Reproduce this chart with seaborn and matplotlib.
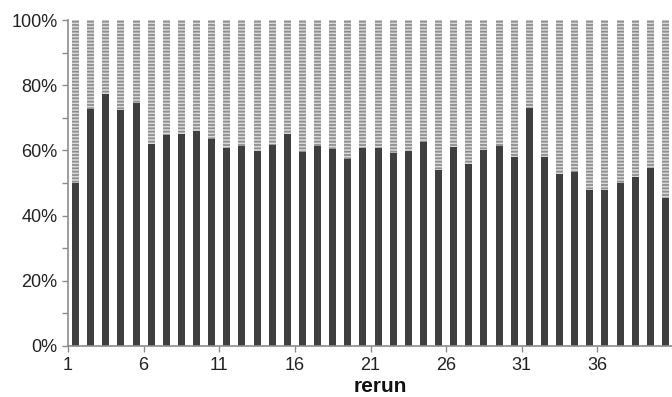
import numpy as np
import pandas as pd
import matplotlib
matplotlib.use("Agg")
import matplotlib.pyplot as plt
import seaborn as sns

# share of the dark part for each rerun (%)
runs = list(range(1, 41))
dark_pct = [50.1, 72.6, 77.2, 72.4, 74.6, 62.0, 64.6, 65.0, 66.0, 63.4,
            60.7, 61.4, 59.8, 61.7, 65.0, 59.4, 61.3, 60.3, 57.5, 60.6,
            60.8, 59.3, 59.8, 62.5, 54.1, 61.0, 55.9, 60.0, 61.3, 58.1,
            72.9, 57.9, 52.8, 53.3, 48.0, 48.0, 50.0, 51.7, 54.5, 45.3]
total_pct = [100] * len(runs)
x_tick_labels = ["1", "6", "11", "16", "21", "26", "31", "36"]
y_ticks = [0, 20, 40, 60, 80, 100]

df = pd.DataFrame({"rerun": runs, "dark": dark_pct, "total": total_pct})

sns.set_style("white")
plt.rcParams["font.family"] = ["Liberation Sans", "DejaVu Sans"]
plt.rcParams["hatch.linewidth"] = 1.3

fig = plt.figure(figsize=(6.72, 3.97), dpi=100)
ax = fig.add_axes([0.1012, 0.1285, 0.9003, 0.8211])

# light hatched part (full bar), then dark part on top
sns.barplot(data=df, x="rerun", y="total", color="#d9d9d9",
            width=0.46, saturation=1, ax=ax)
for p in ax.patches:
    p.set_hatch("-----")
    p.set_edgecolor("#8f8f8f")
    p.set_linewidth(0)

n_light = len(ax.patches)
sns.barplot(data=df, x="rerun", y="dark", color="#3f3f3f",
            width=0.46, saturation=1, ax=ax)
for p in ax.patches[n_light:]:
    p.set_linewidth(0)

ax.set_xlim(-0.5, len(runs) - 0.5)
ax.set_ylim(0, 100)

ax.set_xticks([i - 0.5 for i in range(0, 40, 5)])
ax.set_xticklabels(x_tick_labels)
ax.set_yticks(y_ticks)
ax.set_yticklabels([f"{v}%" for v in y_ticks])
ax.set_yticks([10, 30, 50, 70, 90], minor=True)

ax.tick_params(axis="both", which="both", direction="out", length=4,
               width=1, color="#8c8c8c", labelsize=13, labelcolor="#222222",
               bottom=True, left=True)
ax.tick_params(axis="x", pad=4)

for side in ["top", "right"]:
    ax.spines[side].set_visible(False)
for side in ["left", "bottom"]:
    ax.spines[side].set_color("#8c8c8c")
    ax.spines[side].set_linewidth(1.2)

ax.set_ylabel("")
ax.set_xlabel("rerun", fontsize=15, fontweight="bold", color="#111111")
ax.xaxis.set_label_coords(0.516, -0.095)

fig.savefig("out.png", dpi=100)
